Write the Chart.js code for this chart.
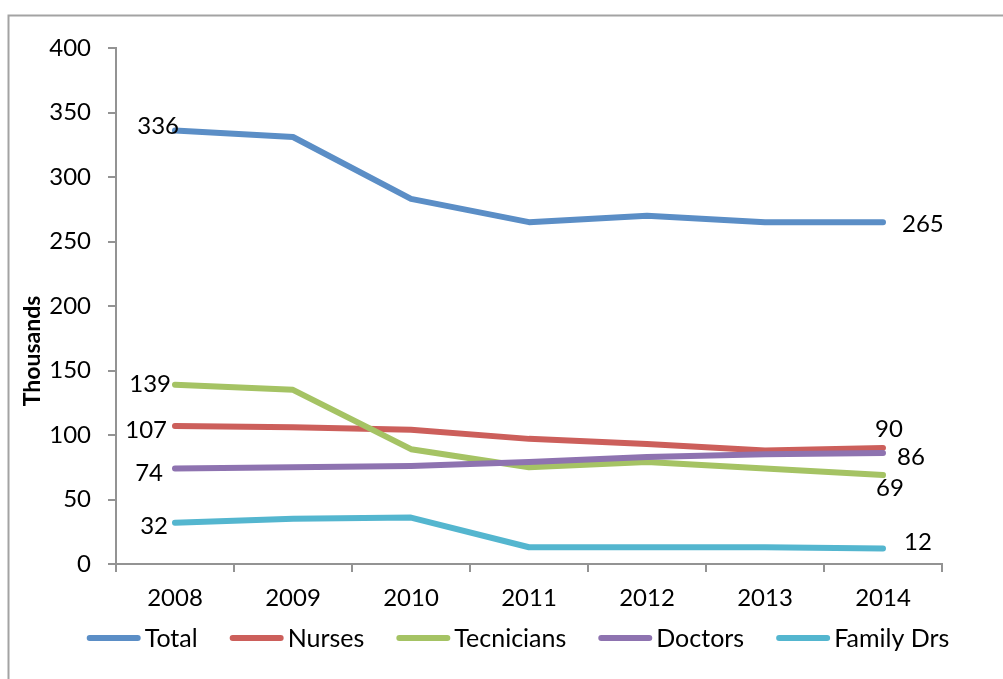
<!DOCTYPE html>
<html>
<head>
<meta charset="utf-8">
<script src="https://cdn.jsdelivr.net/npm/chart.js@4/dist/chart.umd.min.js"></script>
<style>
  html, body { margin: 0; padding: 0; background: #fff; }
  #wrap { position: relative; width: 1003px; height: 679px; }
</style>
</head>
<body>
<div id="wrap"><canvas id="c" width="1003" height="679"></canvas></div>
<script>
// Health workforce, thousands of people per year
const years = ['2008', '2009', '2010', '2011', '2012', '2013', '2014'];
const seriesNames = ['Total', 'Nurses', 'Tecnicians', 'Doctors', 'Family Drs'];
const total      = [336, 331, 283, 265, 270, 265, 265];
const nurses     = [107, 106, 104, 97, 93, 88, 90];
const tecnicians = [139, 135, 89, 75, 79, 74, 69];
const doctors    = [74, 75, 76, 79, 83, 85, 86];
const familyDrs  = [32, 35, 36, 13, 13, 13, 12];
const yTicks = [0, 50, 100, 150, 200, 250, 300, 350, 400];
const yTitle = 'Thousands';

const seriesValues = [total, nurses, tecnicians, doctors, familyDrs];
const colors = ['#5B8EC6', '#CC5F5B', '#A5C364', '#8E73B0', '#54B6CF'];

// Where the end-point value labels sit relative to their point
const endLabelStyle = [
  { first: { dx: 4,  dy: -4, align: 'right' }, last: { dx: 19, dy: 2,   align: 'left' } },
  { first: { dx: -8, dy: 4,  align: 'right' }, last: { dx: 6,  dy: -19, align: 'center' } },
  { first: { dx: -4, dy: 0,  align: 'right' }, last: { dx: 7,  dy: 13,  align: 'center' } },
  { first: { dx: -12, dy: 5, align: 'right' }, last: { dx: 14, dy: 4,   align: 'left' } },
  { first: { dx: -7, dy: 4,  align: 'right' }, last: { dx: 21, dy: -6,  align: 'left' } }
];

const FONT = 'Lato, "Open Sans", sans-serif';
const AXIS = '#939393';

const datasets = seriesNames.map((name, i) => ({
  label: name,
  data: seriesValues[i],
  borderColor: colors[i],
  backgroundColor: colors[i],
  borderWidth: 6,
  borderCapStyle: 'round',
  borderJoinStyle: 'round',
  pointRadius: 0,
  pointHoverRadius: 0,
  tension: 0,
  fill: false,
  order: seriesNames.length - 1 - i   // later series painted over earlier ones
}));

// Outer frame around the chart object, plus the rotated value-axis title
const framePlugin = {
  id: 'frame',
  beforeDraw(chart) {
    const ctx = chart.ctx;
    ctx.save();
    ctx.strokeStyle = '#a3a3a3';
    ctx.lineWidth = 2;
    ctx.beginPath();
    ctx.moveTo(8.5, chart.height);
    ctx.lineTo(8.5, 15.5);
    ctx.lineTo(chart.width, 15.5);
    ctx.stroke();

    ctx.translate(33, 351);
    ctx.rotate(-Math.PI / 2);
    ctx.font = 'bold 23px ' + FONT;
    ctx.fillStyle = '#000';
    ctx.textAlign = 'center';
    ctx.textBaseline = 'middle';
    ctx.fillText(yTitle, 0, 0);
    ctx.restore();
  }
};

// Value labels at the first and last point of each series
const endLabelsPlugin = {
  id: 'endLabels',
  afterDatasetsDraw(chart) {
    const ctx = chart.ctx;
    ctx.save();
    ctx.font = '24px ' + FONT;
    ctx.fillStyle = '#000';
    ctx.textBaseline = 'middle';
    chart.data.datasets.forEach((ds, i) => {
      const meta = chart.getDatasetMeta(i);
      const n = ds.data.length;
      [['first', 0], ['last', n - 1]].forEach(([key, idx]) => {
        const pt = meta.data[idx];
        const st = endLabelStyle[i][key];
        ctx.textAlign = st.align;
        ctx.fillText(String(ds.data[idx]), pt.x + st.dx, pt.y + st.dy);
      });
    });
    ctx.restore();
  }
};

// Legend row: line sample followed by series name, centred under the plot
const legendPlugin = {
  id: 'lineLegend',
  afterDraw(chart) {
    const ctx = chart.ctx;
    const sample = 54, gapText = 4, gapItem = 32, cy = 638, centreX = 518;
    ctx.save();
    ctx.font = '25px ' + FONT;
    ctx.textBaseline = 'middle';
    ctx.textAlign = 'left';
    const items = chart.data.datasets.map(ds => ({
      label: ds.label, color: ds.borderColor, w: ctx.measureText(ds.label).width
    }));
    const width = items.reduce((s, it) => s + sample + gapText + it.w, 0) + gapItem * (items.length - 1);
    let x = centreX - width / 2;
    items.forEach(it => {
      ctx.strokeStyle = it.color;
      ctx.lineWidth = 6;
      ctx.lineCap = 'round';
      ctx.beginPath();
      ctx.moveTo(x + 3, cy);
      ctx.lineTo(x + sample - 3, cy);
      ctx.stroke();
      ctx.fillStyle = '#000';
      ctx.fillText(it.label, x + sample + gapText, cy + 1);
      x += sample + gapText + it.w + gapItem;
    });
    ctx.restore();
  }
};

new Chart(document.getElementById('c'), {
  type: 'line',
  data: { labels: years, datasets },
  plugins: [framePlugin, endLabelsPlugin, legendPlugin],
  options: {
    responsive: false,
    animation: false,
    events: [],
    layout: { padding: { top: 48, left: 0, right: 61, bottom: 0 } },
    plugins: {
      legend: { display: false },
      tooltip: { enabled: false }
    },
    scales: {
      x: {
        type: 'category',
        offset: true,
        grid: {
          offset: true,
          drawOnChartArea: false,
          drawTicks: true,
          tickLength: 8,
          color: AXIS,
          lineWidth: 2
        },
        border: { color: AXIS, width: 2 },
        ticks: {
          color: '#000',
          padding: 12,
          maxRotation: 0,
          font: { family: FONT, size: 24 }
        },
        afterFit(scale) { scale.height = 115; }
      },
      y: {
        min: 0,
        max: 400,
        afterBuildTicks(scale) { scale.ticks = yTicks.map(v => ({ value: v })); },
        grid: {
          drawOnChartArea: false,
          drawTicks: true,
          tickLength: 8,
          color: AXIS,
          lineWidth: 2
        },
        border: { color: AXIS, width: 2 },
        ticks: {
          color: '#000',
          padding: 17,
          font: { family: FONT, size: 24 }
        },
        afterFit(scale) { scale.width = 116; }
      }
    }
  }
});
</script>
</body>
</html>
